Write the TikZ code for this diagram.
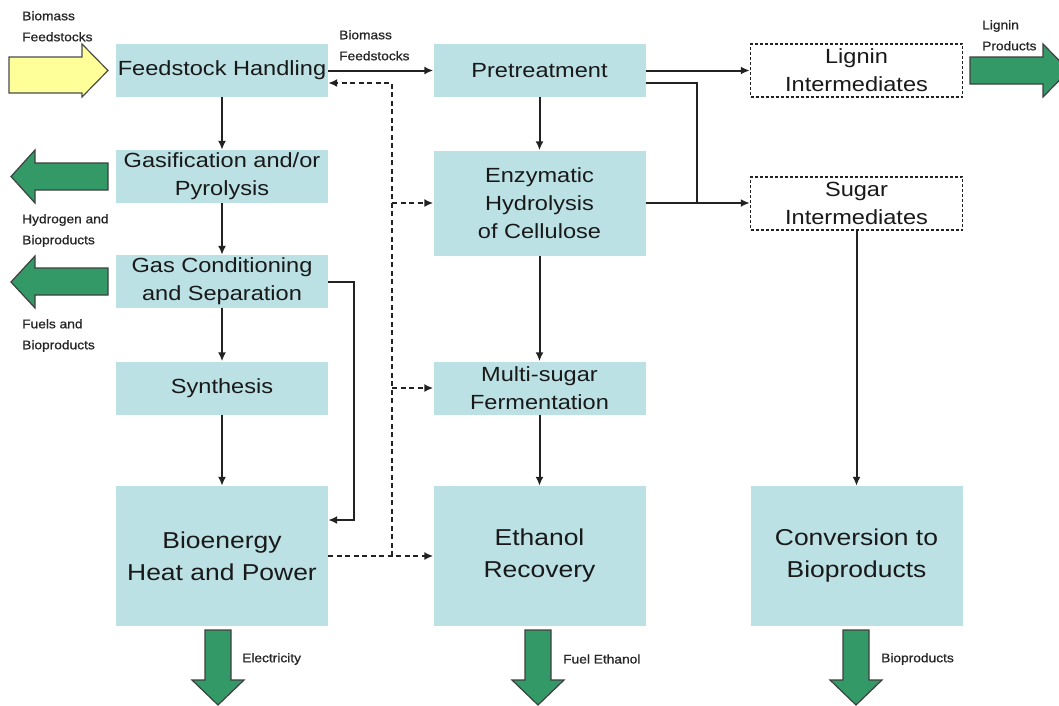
\documentclass[tikz,border=0pt]{standalone}
\usepackage{fontspec}
\setmainfont{Liberation Sans}[FakeStretch=1.15]
\newfontfamily\labfont{Liberation Sans}[FakeStretch=1.1, FakeBold=0.8]
\usetikzlibrary{arrows.meta}
\definecolor{boxblue}{HTML}{BCE1E4}
\definecolor{arrgreen}{HTML}{339966}
\definecolor{arryellow}{HTML}{FFFF99}
\definecolor{linegray}{HTML}{222222}
\begin{document}
\begin{tikzpicture}[x=1pt,y=-1pt,
  box/.style={fill=boxblue, inner sep=0pt, minimum width=212pt, align=center, font=\fontsize{20.5}{28.3}\selectfont, text=black!90},
  bigbox/.style={box, minimum height=140pt, font=\fontsize{23}{32}\selectfont},
  smallbox/.style={box, minimum height=53pt},
  dbox/.style={smallbox, fill=white, draw=linegray, dash pattern=on 3pt off 2pt, line width=1.5pt},
  conn/.style={draw=linegray, line width=2pt, -{Latex[length=9pt,width=8pt]}},
  wire/.style={draw=linegray, line width=2pt},
  dconn/.style={conn, dash pattern=on 5pt off 3.5pt},
  lab/.style={inner sep=0pt, anchor=north west, align=left, font=\labfont\fontsize{12.5}{21}\selectfont, text=black!85},
  garrow/.style={fill=arrgreen, draw=black!75, line width=1.2pt},
  yarrow/.style={fill=arryellow, draw=black!70, line width=1.2pt}
]
\useasboundingbox[fill=white] (0,0) rectangle (1059,705);

% fat arrows
\filldraw[yarrow] (9,57) -- (82,57) -- (82,44) -- (108,70.5) -- (82,97) -- (82,93) -- (9,93) -- cycle;
\filldraw[garrow] (108,163) -- (35,163) -- (35,150) -- (11,176.5) -- (35,203) -- (35,190) -- (108,190) -- cycle;
\filldraw[garrow] (108,268) -- (35,268) -- (35,256) -- (11,282) -- (35,308) -- (35,295) -- (108,295) -- cycle;
\filldraw[garrow] (970,57) -- (1043,57) -- (1043,44) -- (1069,70.5) -- (1043,97) -- (1043,84) -- (970,84) -- cycle;
\foreach \cx in {218,538,856}{
  \filldraw[garrow] (\cx-13,630) -- (\cx+13,630) -- (\cx+13,680) -- (\cx+26,680) -- (\cx,705) -- (\cx-26,680) -- (\cx-13,680) -- cycle;
}

% boxes
\node[smallbox] (fh) at (222,70.5) {Feedstock Handling};
\node[smallbox] (gas) at (222,176.5) {Gasification and/or\\Pyrolysis};
\node[smallbox] (gc) at (222,281.5) {Gas Conditioning\\and Separation};
\node[smallbox] (syn) at (222,388) {Synthesis};
\node[bigbox] (bio) at (222,556) {Bioenergy\\Heat and Power};
\node[smallbox] (pre) at (539.5,70.5) {Pretreatment};
\node[box, minimum height=105pt] (enz) at (539.5,203) {Enzymatic\\Hydrolysis\\of Cellulose};
\node[smallbox] (ms) at (539.5,388) {Multi-sugar\\Fermentation};
\node[bigbox] (eth) at (539.5,556) {Ethanol\\Recovery};
\node[dbox] (lig) at (856.5,70.5) {Lignin\\Intermediates};
\node[dbox] (sug) at (856.5,203.5) {Sugar\\Intermediates};
\node[bigbox] (conv) at (856.5,556) {Conversion to\\Bioproducts};

% labels
\node[lab] (l1) at (22,11) {Biomass\\Feedstocks};
\node[lab] (l2) at (339,30) {Biomass\\Feedstocks};
\node[lab] (l3) at (982,20) {Lignin\\Products};
\node[lab] (l4) at (22,214) {Hydrogen and\\Bioproducts};
\node[lab] (l5) at (22,319) {Fuels and\\Bioproducts};
\node[lab, anchor=west] (l6) at (242,659) {Electricity};
\node[lab, anchor=west] (l7) at (563,659) {Fuel Ethanol};
\node[lab, anchor=west] (l8) at (881,659) {Bioproducts};

% connectors
\draw[conn] (fh) -- (pre);
\draw[conn] (fh) -- (gas);
\draw[conn] (gas) -- (gc);
\draw[conn] (gc) -- (syn);
\draw[conn] (syn) -- (bio);
\draw[conn] (pre) -- (enz);
\draw[conn] (enz) -- (ms);
\draw[conn] (ms) -- (eth);
\draw[conn] (pre) -- (lig);
\draw[conn] (enz.east) -- (enz.east -| sug.west);
\draw[conn] (sug) -- (conv);
\coordinate (pj) at (697,203);
\draw[wire] ([yshift=-12.5pt]pre.east) -| (pj);
\coordinate (gj) at (354,520);
\draw[conn] (gc.east) -| (gj) -- (gj -| bio.east);
\coordinate (dj) at (392,556);
\draw[dconn] (bio.east) -- (eth.west);
\draw[dconn] (dj) |- ([yshift=-12.5pt]fh.east);
\draw[dconn] (dj |- enz.west) -- (enz.west);
\draw[dconn] (dj |- ms.west) -- (ms.west);
\end{tikzpicture}
\end{document}
